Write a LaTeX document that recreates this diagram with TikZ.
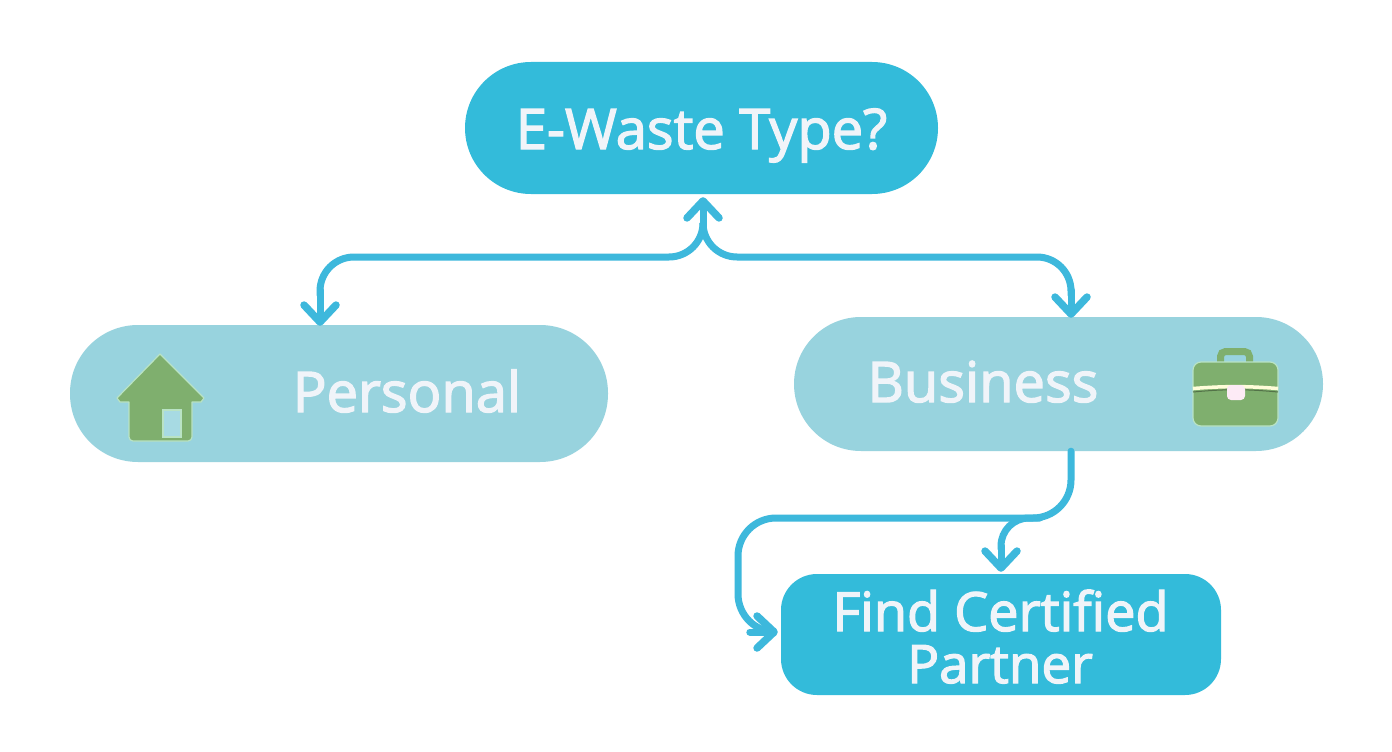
\documentclass[tikz,border=0pt]{standalone}
\usepackage{fontspec}
\setmainfont{Open Sans}
\newfontfamily\labelfont[FakeBold=2.4]{Open Sans}
\usetikzlibrary{arrows.meta}
\definecolor{pillstrong}{HTML}{33BBDA}
\definecolor{pillsoft}{HTML}{98D3DE}
\definecolor{linkc}{HTML}{3DB8DC}
\definecolor{iconc}{HTML}{7FAF6E}
\definecolor{iconedge}{HTML}{B9E3C4}
\definecolor{labelc}{HTML}{F0F4F9}
\tikzset{
  pillbase/.style={inner sep=0pt},
  strongpill/.style={pillbase, fill=pillstrong},
  softpill/.style={pillbase, fill=pillsoft},
  pilllabel/.style={inner sep=0pt, text=labelc, font=\labelfont\fontsize{#1}{#1}\selectfont, anchor=base},
  pilllabel/.default=56,
  link/.style={draw=linkc, line width=7pt, line cap=round, line join=round,
     -{Straight Barb[length=17pt,width=32pt,round,line width=7.5pt]}},
  linkplain/.style={draw=linkc, line width=7pt, line cap=round, rounded corners=#1},
  iconshape/.style={fill=iconc, draw=iconedge, line width=1.2pt, line join=round}
}
\begin{document}
\begin{tikzpicture}[x=1pt,y=-1pt]
\useasboundingbox (0,0) rectangle (1392,752);
\fill[white] (0,0) rectangle (1392,752);
% pills
\node[strongpill, rounded corners=66pt, minimum width=473pt, minimum height=132pt] (top) at (701.5,128) {};
\node[softpill, rounded corners=68pt, minimum width=538pt, minimum height=137pt] (personal) at (339,393.5) {};
\node[softpill, rounded corners=67pt, minimum width=529pt, minimum height=134pt] (business) at (1058.5,384) {};
\node[strongpill, rounded corners=36pt, minimum width=440pt, minimum height=121pt] (partner) at (1001,634.5) {};
\node[pilllabel] (toplabel) at (701.5,149) {E-Waste Type?};
\node[pilllabel] (personallabel) at (407,412) {Personal};
\node[pilllabel] (businesslabel) at (983,402) {Business};
\node[pilllabel=54] (partnerlabela) at (1000.5,631) {Find Certified};
\node[pilllabel=53] (partnerlabelb) at (1000,683) {Partner};
% connector anchors
\coordinate (busout) at ([xshift=12.5pt]business.south);
\coordinate (busin) at ([xshift=12.5pt]business.north);
\coordinate (perin) at ([xshift=-19pt]personal.north);
\coordinate (fork) at (703,257);
\coordinate (topjoin) at ([xshift=1.5pt,yshift=-3pt]top.south);
\coordinate (lowrun) at (1071,518);
\coordinate (lowleft) at (738,518);
\coordinate (partnerin) at ([xshift=-3pt,yshift=2.5pt]partner.west);
% connectors
\draw[linkplain=34pt] (fork |- 0,225) -- (fork) -- (perin |- fork) -- (perin |- 0,295);
\draw[link] (perin |- 0,290) -- ([yshift=-1pt]perin);
\draw[linkplain=34pt] (fork |- 0,225) -- (fork) -- (busin |- fork) -- (busin |- 0,295);
\draw[link] (busin |- 0,290) -- ([yshift=-1pt]busin);
\draw[link] (fork |- 0,228) -- (topjoin);
\draw[linkplain=38pt] (busout) -- (lowrun) -- (lowleft) -- (lowleft |- partnerin) -- ([xshift=-15pt]partnerin);
\draw[link] ([xshift=-28pt]partnerin) -- (partnerin);
\draw[linkplain=28pt] (1040,518) -- (partner.north |- lowrun) -- ([yshift=25pt]partner.north);
\draw[link] ([yshift=28pt]partner.north) -- ([yshift=2pt]partner.north);
% house icon
\draw[iconshape] (160,354) -- (204,398) -- (201,402) -- (192,402) -- (192,436) [rounded corners=4pt] -- (192,441) -- (129,441) [sharp corners] -- (129,402) -- (120,402) -- (117,398) -- cycle;
\draw[fill=pillsoft!85!white, draw=iconedge, line width=1.2pt] (163,410) rectangle (181,437);
% briefcase icon
\draw[iconc, line width=7pt, rounded corners=5pt] (1220.5,364) -- (1220.5,351.5) -- (1249.5,351.5) -- (1249.5,364);
\draw[iconshape, rounded corners=8pt] (1193,362) rectangle (1278,426);
\draw[draw=iconc!65!black, line width=1pt] (1193,392) .. controls (1225,389) and (1246,389) .. (1278,392);
\draw[draw=white!85!yellow, line width=3.5pt] (1193,388.5) .. controls (1225,386) and (1246,386) .. (1278,388.5);
\draw[fill=white!92!magenta, draw=none, rounded corners=4pt] (1227,385) rectangle (1245,400);
\end{tikzpicture}
\end{document}
